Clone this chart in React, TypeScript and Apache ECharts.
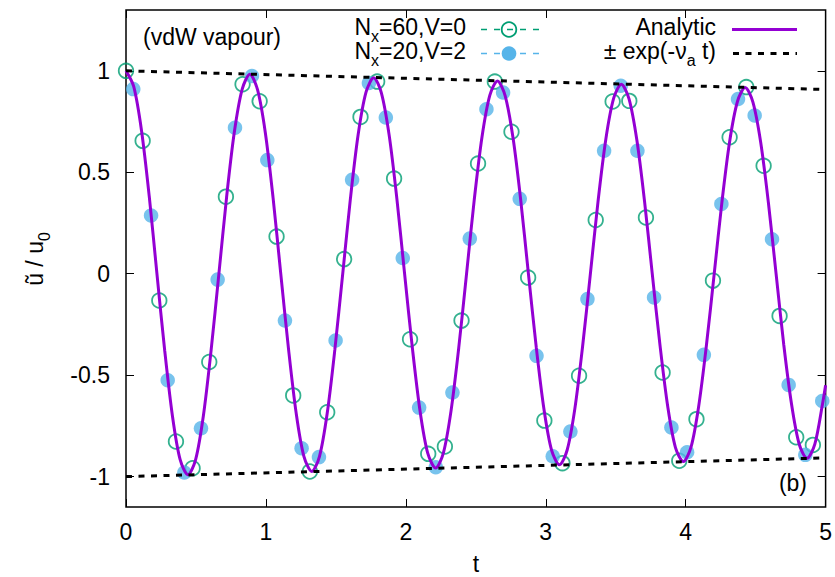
import React, { useEffect, useRef } from "react";
import * as echarts from "echarts";

// ---- data ----
const tGreen = [0, 0.119, 0.238, 0.357, 0.476, 0.595, 0.714, 0.833, 0.955, 1.076, 1.195, 1.314, 1.438, 1.559, 1.676, 1.795, 1.916, 2.03, 2.16, 2.279, 2.398, 2.516, 2.636, 2.755, 2.874, 2.99, 3.119, 3.238, 3.357, 3.478, 3.597, 3.716, 3.835, 3.954, 4.077, 4.195, 4.314, 4.433, 4.557, 4.671, 4.79, 4.909];
const uGreen = [1.0, 0.655, -0.132, -0.827, -0.959, -0.435, 0.38, 0.934, 0.85, 0.183, -0.6, -0.975, -0.683, 0.072, 0.773, 0.947, 0.469, -0.323, -0.888, -0.852, -0.231, 0.543, 0.947, 0.7, -0.019, -0.724, -0.934, -0.503, 0.265, 0.849, 0.852, 0.277, -0.487, -0.922, -0.717, -0.034, 0.673, 0.92, 0.532, -0.208, -0.806, -0.844];

const tBlue = [0.052, 0.179, 0.298, 0.417, 0.536, 0.655, 0.779, 0.9, 1.01, 1.136, 1.255, 1.379, 1.498, 1.616, 1.736, 1.857, 1.978, 2.095, 2.214, 2.333, 2.457, 2.576, 2.695, 2.814, 2.934, 3.05, 3.176, 3.298, 3.417, 3.536, 3.655, 3.774, 3.898, 4.01, 4.13, 4.255, 4.374, 4.493, 4.617, 4.736, 4.855, 4.976];
const uBlue = [0.91, 0.287, -0.525, -0.98, -0.762, -0.029, 0.72, 0.975, 0.56, -0.231, -0.86, -0.904, -0.329, 0.463, 0.94, 0.77, 0.077, -0.66, -0.954, -0.586, 0.173, 0.811, 0.893, 0.369, -0.405, -0.9, -0.778, -0.125, 0.606, 0.927, 0.606, -0.117, -0.758, -0.88, -0.4, 0.344, 0.861, 0.78, 0.17, -0.548, -0.893, -0.627];

const tAnalytic = [0, 0.055, 0.111, 0.166, 0.221, 0.277, 0.332, 0.387, 0.443, 0.498, 0.553, 0.608, 0.664, 0.719, 0.774, 0.83, 0.885, 0.94, 0.996, 1.051, 1.106, 1.162, 1.217, 1.272, 1.328, 1.383, 1.438, 1.493, 1.549, 1.604, 1.659, 1.715, 1.77, 1.825, 1.881, 1.936, 1.991, 2.047, 2.102, 2.157, 2.213, 2.268, 2.323, 2.378, 2.434, 2.489, 2.544, 2.6, 2.655, 2.71, 2.766, 2.821, 2.876, 2.932, 2.987, 3.042, 3.098, 3.153, 3.208, 3.263, 3.319, 3.374, 3.429, 3.485, 3.54, 3.595, 3.651, 3.706, 3.761, 3.817, 3.872, 3.927, 3.983, 4.038, 4.093, 4.148, 4.204, 4.259, 4.314, 4.37, 4.425, 4.48, 4.536, 4.591, 4.646, 4.701, 4.757, 4.812, 4.867, 4.923, 4.978, 5.0];
const uAnalytic = [1.0, 0.923, 0.705, 0.382, 0, -0.381, -0.702, -0.917, -0.991, -0.915, -0.7, -0.379, 0, 0.378, 0.697, 0.909, 0.983, 0.907, 0.694, 0.375, 0, -0.374, -0.691, -0.902, -0.975, -0.9, -0.688, -0.372, 0, 0.371, 0.685, 0.894, 0.966, 0.892, 0.682, 0.369, 0, -0.368, -0.679, -0.886, -0.958, -0.884, -0.676, -0.366, 0, 0.365, 0.673, 0.879, 0.95, 0.877, 0.67, 0.363, 0, -0.362, -0.667, -0.871, -0.942, -0.869, -0.665, -0.36, 0, 0.359, 0.662, 0.864, 0.934, 0.862, 0.659, 0.357, 0, -0.356, -0.656, -0.857, -0.926, -0.855, -0.653, -0.354, 0, 0.353, 0.651, 0.849, 0.918, 0.847, 0.648, 0.351, 0, -0.35, -0.645, -0.842, -0.91, -0.84, -0.642, -0.55];

const tEnvelope = [0, 5];
const envUpper = [1.0, 0.908];
const envLower = [-1.0, -0.908];

const xTicks = [0, 1, 2, 3, 4, 5];
const yTicks = [-1, -0.5, 0, 0.5, 1];

const FONT = "Liberation Sans, Arial, sans-serif";
const FS = 23;
const GREEN = "#009e73";
const BLUE = "#56b4e9";
const PURPLE = "#9400d3";

const zip = (a: number[], b: number[]) => a.map((v, i) => [v, b[i]]);

const rich = {
  n: { fontSize: FS, fontFamily: FONT, color: "#000", verticalAlign: "top", lineHeight: FS },
  s: { fontSize: 16, fontFamily: FONT, color: "#000", verticalAlign: "top", lineHeight: 16, padding: [13, 0, 0, 0] },
};

export default function App() {
  const ref = useRef<HTMLDivElement>(null);
  useEffect(() => {
    document.body.style.margin = "0";
    const chart = echarts.init(ref.current!, null, { renderer: "svg" });
    const tickStyle = { inside: true, length: 8, lineStyle: { color: "#000", width: 1 } };
    const noLine = { show: false, onZero: false };
    const option: any = {
      animation: false,
      backgroundColor: "#fff",
      grid: { left: 126, right: 9, top: 10, bottom: 70, show: true, borderColor: "#000", borderWidth: 1.5, backgroundColor: "transparent" },
      xAxis: [
        {
          type: "value", min: 0, max: 5, interval: 1, position: "bottom",
          axisLine: noLine, splitLine: { show: false },
          axisTick: { ...tickStyle, customValues: xTicks },
          axisLabel: { color: "#000", fontSize: FS, fontFamily: FONT, margin: 13, customValues: xTicks },
        },
        {
          type: "value", min: 0, max: 5, interval: 1, position: "top",
          axisLine: noLine, splitLine: { show: false },
          axisTick: { ...tickStyle, customValues: xTicks },
          axisLabel: { show: false },
        },
      ],
      yAxis: [
        {
          type: "value", min: -1.15, max: 1.3, position: "left",
          axisLine: noLine, splitLine: { show: false },
          axisTick: { ...tickStyle, customValues: yTicks },
          axisLabel: { color: "#000", fontSize: FS, fontFamily: FONT, margin: 16, customValues: yTicks },
        },
        {
          type: "value", min: -1.15, max: 1.3, position: "right",
          axisLine: noLine, splitLine: { show: false },
          axisTick: { ...tickStyle, customValues: yTicks },
          axisLabel: { show: false },
        },
      ],
      series: [
        {
          name: "Nx=60,V=0", type: "scatter", data: zip(tGreen, uGreen),
          symbol: "circle", symbolSize: 14.5,
          itemStyle: { color: "rgba(0,0,0,0)", borderColor: GREEN, borderWidth: 1.8 },
          z: 2,
        },
        {
          name: "Nx=20,V=2", type: "scatter", data: zip(tBlue, uBlue),
          symbol: "circle", symbolSize: 14.5,
          itemStyle: { color: BLUE },
          z: 3,
        },
        {
          name: "Analytic", type: "line", data: zip(tAnalytic, uAnalytic),
          showSymbol: false, smooth: 0.3,
          lineStyle: { color: PURPLE, width: 3 },
          z: 4,
        },
        {
          name: "env+", type: "line", data: zip(tEnvelope, envUpper),
          showSymbol: false, lineStyle: { color: "#000", width: 3, type: [6, 6.5] }, z: 5,
        },
        {
          name: "env-", type: "line", data: zip(tEnvelope, envLower),
          showSymbol: false, lineStyle: { color: "#000", width: 3, type: [6, 6.5] }, z: 5,
        },
      ],
      graphic: [
        { type: "text", x: 143, y: 37, style: { text: "(vdW vapour)", font: `${FS}px ${FONT}`, fill: "#000", align: "left", verticalAlign: "middle" }, z: 10 },
        { type: "text", x: 466, y: 15.5, style: { text: "{n|N}{s|x}{n|=60,V=0}", rich, align: "right", verticalAlign: "top" }, z: 10 },
        { type: "text", x: 466, y: 39.5, style: { text: "{n|N}{s|x}{n|=20,V=2}", rich, align: "right", verticalAlign: "top" }, z: 10 },
        { type: "text", x: 716, y: 15.5, style: { text: "{n|Analytic}", rich, align: "right", verticalAlign: "top" }, z: 10 },
        { type: "text", x: 716, y: 39.5, style: { text: "{n|± exp(-ν}{s|a}{n| t)}", rich, align: "right", verticalAlign: "top" }, z: 10 },
        // legend samples
        { type: "line", shape: { x1: 481, y1: 29.5, x2: 541, y2: 29.5 }, style: { stroke: GREEN, lineWidth: 1.5, lineDash: [6, 7] }, z: 10 },
        { type: "circle", shape: { cx: 509, cy: 29.5, r: 7.3 }, style: { stroke: GREEN, lineWidth: 1.8, fill: "rgba(0,0,0,0)" }, z: 10 },
        { type: "line", shape: { x1: 481, y1: 53.5, x2: 541, y2: 53.5 }, style: { stroke: BLUE, lineWidth: 1.5, lineDash: [6, 7] }, z: 10 },
        { type: "circle", shape: { cx: 509, cy: 53.5, r: 7.3 }, style: { fill: BLUE }, z: 10 },
        { type: "line", shape: { x1: 732, y1: 29.5, x2: 797, y2: 29.5 }, style: { stroke: PURPLE, lineWidth: 3 }, z: 10 },
        { type: "line", shape: { x1: 733, y1: 53.5, x2: 797, y2: 53.5 }, style: { stroke: "#000", lineWidth: 3, lineDash: [6, 6.5] }, z: 10 },
        // annotation & axis titles
        { type: "text", x: 807, y: 483, style: { text: "(b)", font: `${FS}px ${FONT}`, fill: "#000", align: "right", verticalAlign: "middle" }, z: 10 },
        { type: "text", x: 476, y: 564, style: { text: "t", font: `${FS}px ${FONT}`, fill: "#000", align: "center", verticalAlign: "middle" }, z: 10 },
        { type: "text", x: 23, y: 259, rotation: Math.PI / 2, style: { text: "{n|ũ / u}{s|0}", rich, align: "center", verticalAlign: "top" }, z: 10 },
      ],
    };
    chart.setOption(option);
    return () => chart.dispose();
  }, []);
  return <div ref={ref} style={{ width: 835, height: 577 }} />;
}
